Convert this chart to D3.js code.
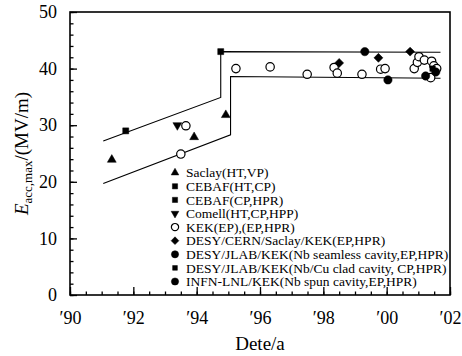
<!DOCTYPE html>
<html>
<head>
<meta charset="utf-8">
<script src="https://cdn.jsdelivr.net/npm/d3@7"></script>
<style>
  body { margin: 0; background: #fff; }
  svg text { font-family: "Liberation Serif", "Times New Roman", serif; fill: #000; }
  .axis path, .axis line { stroke: #000; }
  .axis .domain { display: none; }
</style>
</head>
<body>
<script>
var fullWidth = 462;
var fullHeight = 356;

var margin = {top: 12, right: 12, bottom: 61, left: 70};

var width = fullWidth - margin.left - margin.right;
var height = fullHeight - margin.top - margin.bottom;

// data: [year, E (MV/m)]
var saclay = [[91.32, 23.9], [93.92, 27.9], [94.92, 31.8]];
var cebafHtCp = [[91.76, 29.0]];
var cebafCpHpr = [[94.76, 43.0]];
var cornell = [[93.39, 30.0]];
var kek = [[93.5, 24.9], [93.66, 29.9], [95.24, 40.0], [96.32, 40.3], [97.49, 39.0],
           [98.34, 40.2], [98.44, 39.2], [99.22, 39.0], [99.81, 39.9], [99.95, 40.0],
           [100.87, 40.0], [100.97, 41.1], [101.02, 42.1], [101.19, 41.5], [101.42, 41.3],
           [101.49, 40.5], [101.58, 40.0], [101.39, 38.4]];
var desyCern = [[98.5, 41.0], [99.74, 41.9], [100.74, 43.0]];
var desySeamless = [[99.31, 43.0], [100.04, 38.0], [101.23, 38.7]];
var desyClad = [[101.45, 40.0]];
var infn = [[101.55, 39.4]];

var upperEnvelope = [[91.05, 27.2], [94.76, 34.9], [94.76, 43.0], [101.7, 42.9]];
var lowerEnvelope = [[91.05, 19.7], [95.07, 28.3], [95.07, 38.6], [101.7, 38.3]];

var legendNames = ["Saclay(HT,VP)", "CEBAF(HT,CP)", "CEBAF(CP,HPR)", "Comell(HT,CP,HPP)",
                   "KEK(EP),(EP,HPR)", "DESY/CERN/Saclay/KEK(EP,HPR)",
                   "DESY/JLAB/KEK(Nb seamless cavity,EP,HPR)",
                   "DESY/JLAB/KEK(Nb/Cu clad cavity, CP,HPR)",
                   "INFN-LNL/KEK(Nb spun cavity,EP,HPR)"];

var majorYears = [90, 92, 94, 96, 98, 100, 102];
var minorYears = d3.range(90, 102.01, 0.5);
var majorE = [0, 10, 20, 30, 40, 50];
var minorE = d3.range(0, 50.01, 2);

var svg = d3.select("body").append("svg")
            .attr("width", fullWidth)
            .attr("height", fullHeight);

var xScale = d3.scaleLinear().domain([90, 102]).range([margin.left, margin.left + width]);
var yScale = d3.scaleLinear().domain([0, 50]).range([margin.top + height, margin.top]);

// marker shapes
var shapes = {
    tri:  {type: d3.symbolTriangle, size: 34, fill: "#000", rot: 0},
    sq:   {type: d3.symbolSquare, size: 36, fill: "#000", rot: 0},
    sqs:  {type: d3.symbolSquare, size: 30, fill: "#000", rot: 0},
    dtri: {type: d3.symbolTriangle, size: 34, fill: "#000", rot: 180},
    oc:   {type: d3.symbolCircle, size: 55, fill: "#fff", rot: 0},
    dia:  {type: d3.symbolSquare, size: 40, fill: "#000", rot: 45},
    fc:   {type: d3.symbolCircle, size: 55, fill: "#000", rot: 0}
};

var series = [
    {data: saclay, shape: "tri"},
    {data: cebafHtCp, shape: "sq"},
    {data: cebafCpHpr, shape: "sq"},
    {data: cornell, shape: "dtri"},
    {data: kek, shape: "oc"},
    {data: desyCern, shape: "dia"},
    {data: desySeamless, shape: "fc"},
    {data: desyClad, shape: "sqs"},
    {data: infn, shape: "fc"}
];

// axes (ticks point inward)
svg.append("g")
   .attr("class", "axis")
   .attr("transform", "translate(0," + (margin.top + height) + ")")
   .call(d3.axisBottom(xScale).tickValues(minorYears).tickSize(-3.5).tickFormat(""));

svg.append("g")
   .attr("class", "axis")
   .attr("transform", "translate(0," + (margin.top + height) + ")")
   .call(d3.axisBottom(xScale).tickValues(majorYears).tickSize(-8).tickPadding(16)
         .tickFormat(function(d) { return "\u2032" + d3.format("02")(d % 100); }))
   .selectAll("text")
   .style("font-size", "18px");

svg.append("g")
   .attr("class", "axis")
   .attr("transform", "translate(" + margin.left + ",0)")
   .call(d3.axisLeft(yScale).tickValues(minorE).tickSize(-3.5).tickFormat(""));

svg.append("g")
   .attr("class", "axis")
   .attr("transform", "translate(" + margin.left + ",0)")
   .call(d3.axisLeft(yScale).tickValues(majorE).tickSize(-7).tickPadding(13))
   .selectAll("text")
   .style("font-size", "18px");

svg.selectAll(".axis line").attr("stroke-width", 1.3);

// frame
svg.append("rect")
   .attr("x", margin.left)
   .attr("y", margin.top)
   .attr("width", width)
   .attr("height", height)
   .attr("fill", "none")
   .attr("stroke", "#000")
   .attr("stroke-width", 1.6);

// envelope lines
var line = d3.line()
             .x(function(d) { return xScale(d[0]); })
             .y(function(d) { return yScale(d[1]); });

[upperEnvelope, lowerEnvelope].forEach(function(env) {
    svg.append("path")
       .attr("d", line(env))
       .attr("fill", "none")
       .attr("stroke", "#000")
       .attr("stroke-width", 1.1);
});

function drawSymbol(sel, key, scale) {
    var s = shapes[key];
    sel.attr("d", d3.symbol().type(s.type).size(s.size * (scale || 1)))
       .attr("fill", s.fill)
       .attr("stroke", "#000")
       .attr("stroke-width", s.fill == "#fff" ? 1.2 : 0.5);
}

series.forEach(function(s) {
    svg.append("g").selectAll("path")
       .data(s.data)
       .enter()
       .append("path")
       .attr("transform", function(d) {
           return "translate(" + xScale(d[0]) + "," + yScale(d[1]) + ") rotate(" + shapes[s.shape].rot + ")";
       })
       .call(drawSymbol, s.shape);
});

// legend
var legend = svg.selectAll(".legend")
                .data(legendNames)
                .enter()
                .append("g")
                .attr("class", "legend")
                .attr("transform", function(d, i) {
                    return "translate(175," + (172.7 + i * 13.6) + ")";
                });

legend.append("path")
      .attr("transform", function(d, i) { return "rotate(" + shapes[series[i].shape].rot + ")"; })
      .each(function(d, i) { d3.select(this).call(drawSymbol, series[i].shape, 0.75); });

legend.append("text")
      .attr("x", 11)
      .attr("dy", "0.35em")
      .style("font-size", "13.5px")
      .text(function(d) { return d; });

// x axis name
svg.append("text")
   .attr("x", margin.left + width / 2)
   .attr("y", 350)
   .style("text-anchor", "middle")
   .style("font-size", "19px")
   .text("Dete/a");

// y axis name
var yTitle = svg.append("text")
   .attr("transform", "translate(28," + (margin.top + height / 2) + ") rotate(-90)")
   .style("text-anchor", "middle")
   .style("font-size", "19px");
yTitle.append("tspan").style("font-style", "italic").text("E");
yTitle.append("tspan").attr("dy", 4).style("font-size", "13px").text("acc,max");
yTitle.append("tspan").attr("dy", -4).text("/(MV/m)");
</script>
</body>
</html>
